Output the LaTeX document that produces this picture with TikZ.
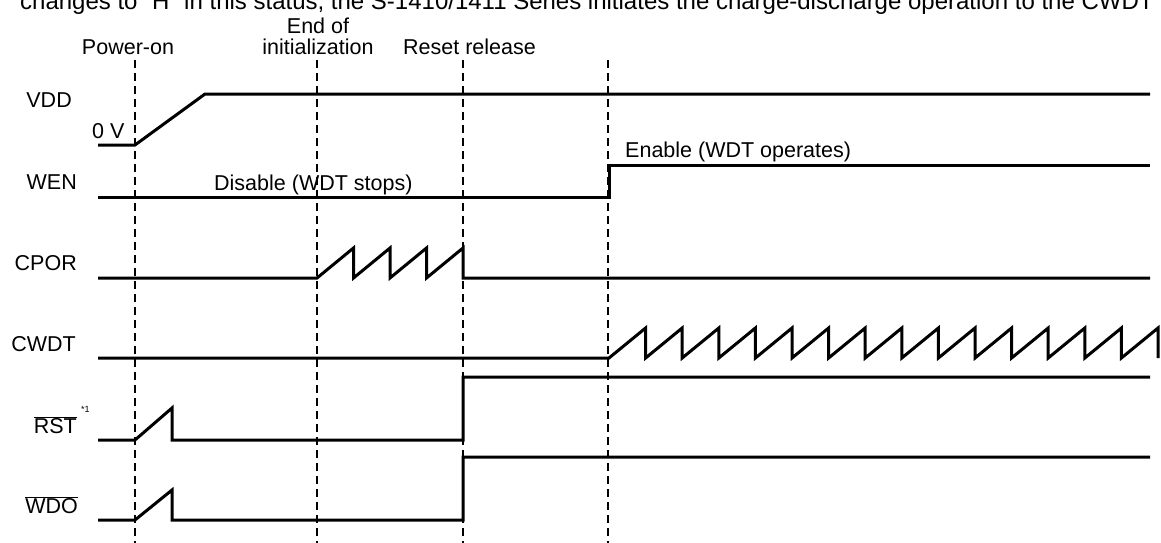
\documentclass[tikz,border=0pt]{standalone}
\usepackage{fontspec}
\setmainfont{Liberation Sans}
\begin{document}
\begin{tikzpicture}[x=1pt,y=-1pt,
  sig/.style={line width=3pt,line join=miter,line cap=butt},
  guide/.style={line width=1.6pt,dash pattern=on 8pt off 5pt},
  lbl/.style={inner sep=0pt,font=\fontsize{21.5}{24}\selectfont},
  siglbl/.style={lbl,anchor=east}]
\useasboundingbox (0,0) rectangle (1161,543);
\clip (0,0) rectangle (1161,543);
\fill[white] (0,0) rectangle (1161,543);
% cut-off caption line
\node[lbl,anchor=base west,font=\fontsize{24}{26}\selectfont] (cap) at (20,9.5) {changes to “H” in this status, the S-1410/1411 Series initiates the charge-discharge operation to the CWDT};
% event labels
\node[lbl,anchor=base] (pon) at (128,55) {Power-on};
\node[lbl,anchor=base] (eoi1) at (318,33.5) {End of};
\node[lbl,anchor=base] (eoi2) at (318,55) {initialization};
\node[lbl,anchor=base west] (rr) at (403,55) {Reset release};
% guides
\coordinate (g1t) at (135,60); \coordinate (g1b) at (135,543);
\coordinate (g2t) at (317,60); \coordinate (g2b) at (317,543);
\coordinate (g3t) at (463,60); \coordinate (g3b) at (463,543);
\coordinate (g4t) at (608,60); \coordinate (g4b) at (608,543);
\draw[guide] (g1t) -- (g1b);
\draw[guide] (g2t) -- (g2b);
\draw[guide] (g3t) -- (g3b);
\draw[guide] (g4t) -- (g4b);
% signal labels
\node[siglbl] (lvdd) at (72,100) {VDD};
\node[siglbl] (lwen) at (77,182) {WEN};
\node[siglbl] (lcpor) at (77,263) {CPOR};
\node[siglbl] (lcwdt) at (76,344) {CWDT};
\node[siglbl] (lrst) at (77,425) {$\overline{\hbox{RST}}$};
\node[lbl,anchor=west,font=\fontsize{9}{9}\selectfont] (star) at (81,409) {*1};
\node[siglbl] (lwdo) at (78,505) {$\overline{\hbox{WDO}}$};
\node[lbl,anchor=base west] (zero) at (92,138) {0 V};
\node[lbl,anchor=base west] (dis) at (214,190) {Disable (WDT stops)};
\node[lbl,anchor=base west] (en) at (625,157) {Enable (WDT operates)};
% signals
\draw[sig] (98,145) -- (135,145) -- (205,94) -- (1150,94);
\draw[sig] (98,197) -- (609,197) -- (609,165) -- (1150,165);
\draw[sig] (98,278) -- (317,278)
  -- (353.5,248) -- (353.5,278) -- (390,248) -- (390,278)
  -- (426.5,248) -- (426.5,278) -- (463,248) -- (463,278) -- (1150,278);
\draw[sig] (98,358) -- (609,358)
  \foreach \i in {1,...,15} { -- ({609+\i*36.6},328) -- ({609+\i*36.6},358) };
\draw[sig] (98,440) -- (135,440) -- (172,408) -- (172,440) -- (463,440) -- (463,377) -- (1150,377);
\draw[sig] (98,520) -- (135,520) -- (172,490) -- (172,520) -- (463,520) -- (463,457) -- (1150,457);
\end{tikzpicture}
\end{document}
